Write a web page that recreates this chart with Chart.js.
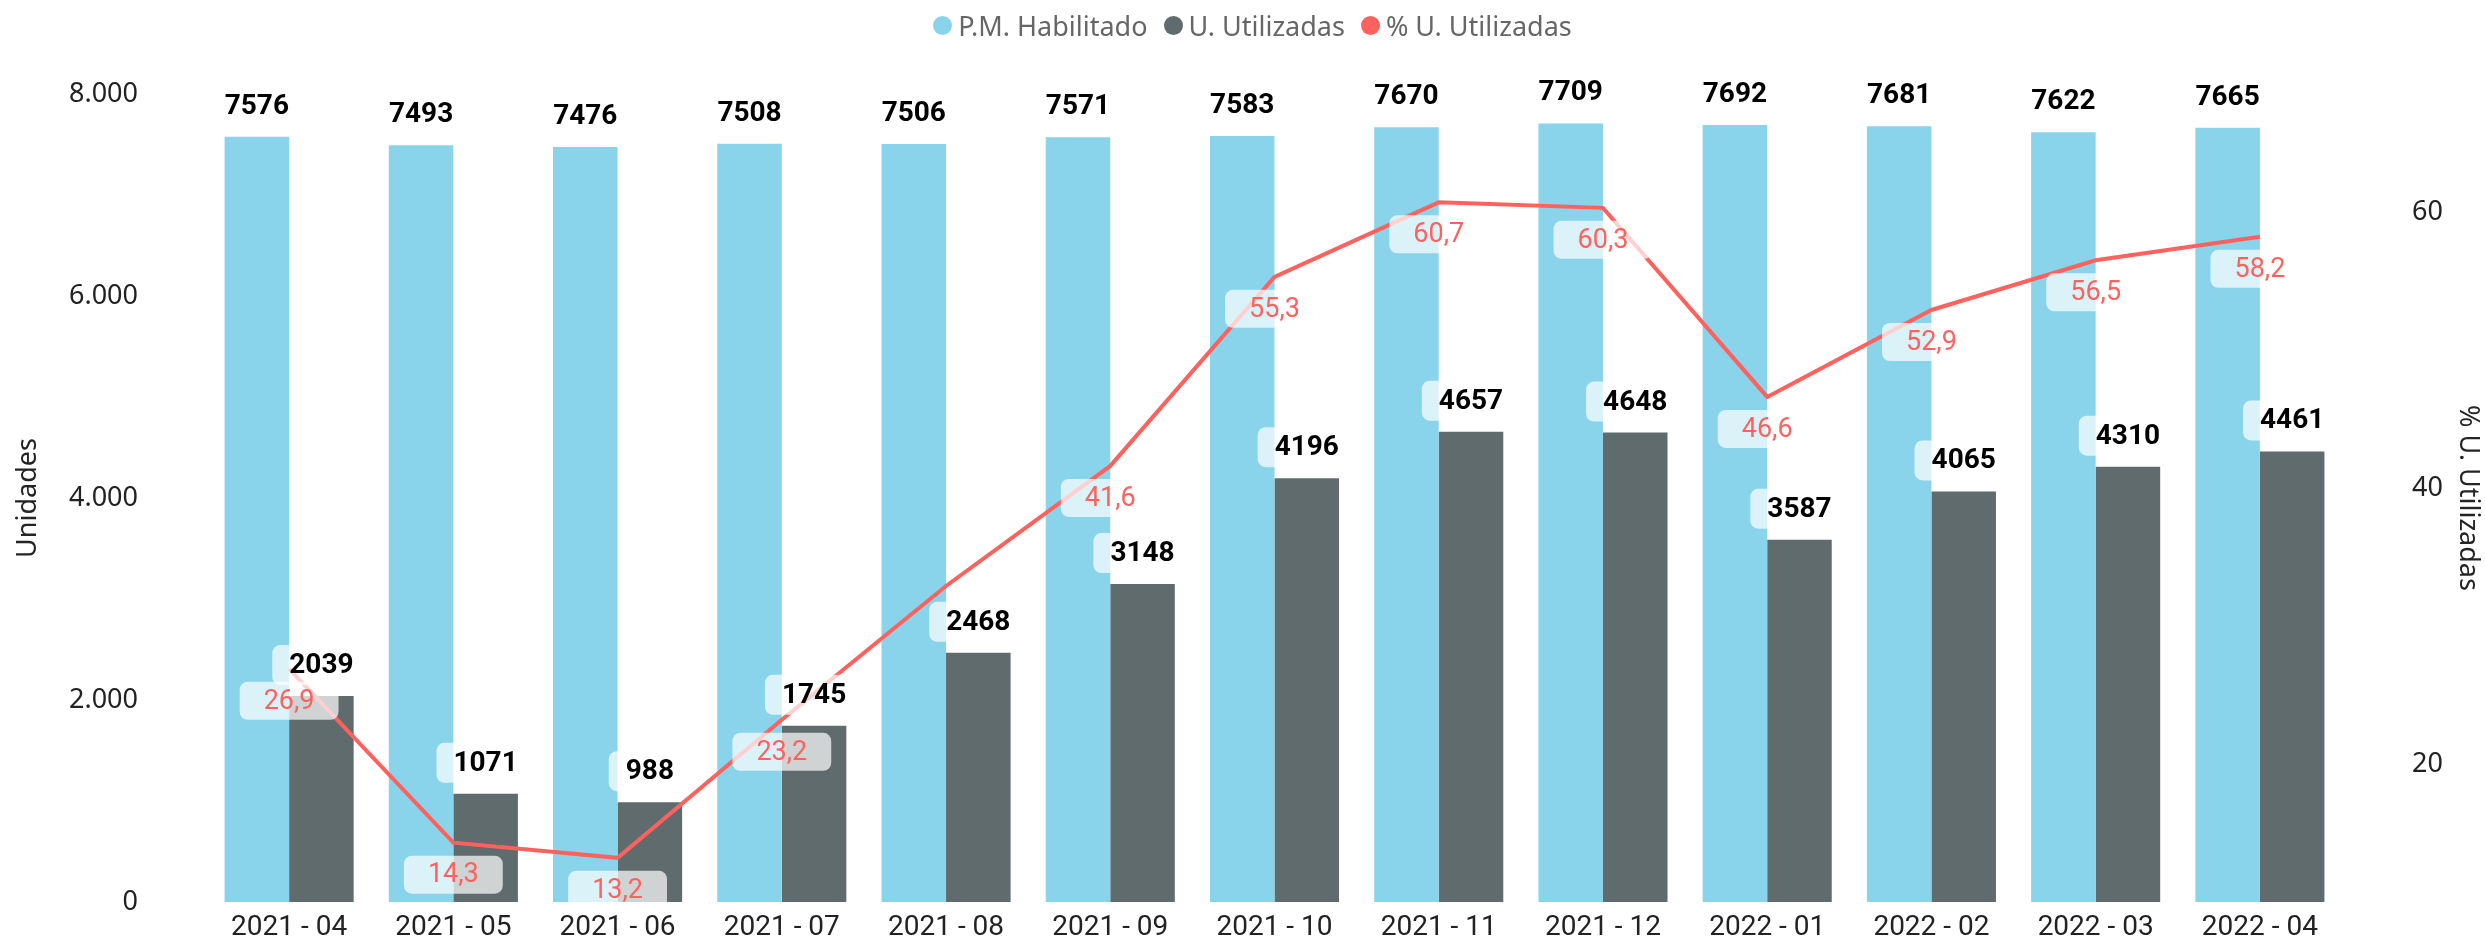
<!DOCTYPE html>
<html>
<head>
<meta charset="utf-8">
<script src="https://cdn.jsdelivr.net/npm/chart.js@4"></script>
<style>
    body { margin: 0; background: #ffffff; }
    #wrap { position: relative; width: 2485px; height: 942px; }
    #legend {
        position: absolute; top: 0; left: 0; width: 2485px; height: 50px;
        display: flex; justify-content: center; align-items: center;
        font-family: "Noto Sans", sans-serif; font-size: 27px; color: #666666;
        transform: translateX(10px);
    }
    .item { display: flex; align-items: center; margin: 0 8px; }
    .dot { width: 19px; height: 19px; border-radius: 50%; margin-right: 6px; }
</style>
</head>
<body>
<div id="wrap">
    <div id="legend"></div>
    <canvas id="myChart" width="2485" height="942"></canvas>
</div>
<script>
// datos
let meses = ["2021 - 04", "2021 - 05", "2021 - 06", "2021 - 07", "2021 - 08", "2021 - 09", "2021 - 10",
    "2021 - 11", "2021 - 12", "2022 - 01", "2022 - 02", "2022 - 03", "2022 - 04"]
let habilitado = [7576, 7493, 7476, 7508, 7506, 7571, 7583, 7670, 7709, 7692, 7681, 7622, 7665]
let utilizadas = [2039, 1071, 988, 1745, 2468, 3148, 4196, 4657, 4648, 3587, 4065, 4310, 4461]
let porcentaje = [26.9, 14.3, 13.2, 23.2, 32.9, 41.6, 55.3, 60.7, 60.3, 46.6, 52.9, 56.5, 58.2]
let ticksIzq = [0, 2000, 4000, 6000, 8000]
let ticksDer = [20, 40, 60]

let colores = ["#8AD4EB", "#5F6B6D", "#FD625E"]
let nombres = ["P.M. Habilitado", "U. Utilizadas", "% U. Utilizadas"]

// leyenda en html
for (let i = 0; i < nombres.length; i++) {
    document.getElementById("legend").innerHTML +=
        '<span class="item"><span class="dot" style="background:' + colores[i] + '"></span>' + nombres[i] + '</span>';
}

function miles(v) {
    return String(v).replace(/\B(?=(\d{3})+(?!\d))/g, ".");
}

function medir(ctx, txt, cx, cy, padX, h, font) {
    ctx.font = font;
    let w = ctx.measureText(txt).width + padX * 2;
    return {x1: cx - w / 2, x2: cx + w / 2, y1: cy - h / 2, y2: cy + h / 2};
}

function caja(ctx, txt, b, color, font) {
    ctx.font = font;
    ctx.fillStyle = "rgba(255,255,255,0.7)";
    ctx.beginPath();
    ctx.roundRect(b.x1, b.y1, b.x2 - b.x1, b.y2 - b.y1, 8);
    ctx.fill();
    ctx.fillStyle = color;
    ctx.textAlign = "center";
    ctx.textBaseline = "middle";
    ctx.fillText(txt, (b.x1 + b.x2) / 2, (b.y1 + b.y2) / 2 + 1);
}

// etiquetas de datos con fondo claro (como power bi)
const etiquetas = {
    id: "etiquetas",
    afterDatasetsDraw(chart) {
        let ctx = chart.ctx;
        let area = chart.chartArea;
        ctx.save();
        ctx.beginPath();
        ctx.rect(0, 0, chart.width, area.bottom);
        ctx.clip();
        let usadas = [];
        for (let d = 0; d < 2; d++) {
            let valores = d == 0 ? habilitado : utilizadas;
            chart.getDatasetMeta(d).data.forEach((bar, i) => {
                let f = "bold 28px Roboto";
                let b = medir(ctx, String(valores[i]), bar.x, bar.y - 31, 17, 40, f);
                caja(ctx, String(valores[i]), b, "#000000", f);
                usadas.push(b);
            });
        }
        chart.getDatasetMeta(2).data.forEach((pt, i) => {
            let f = "27px Roboto";
            let txt = porcentaje[i].toFixed(1).replace(".", ",");
            let b = medir(ctx, txt, pt.x, pt.y + 32, 24, 38, f);
            // se esconde si choca con otra etiqueta
            let choca = usadas.some(u =>
                Math.min(u.x2, b.x2) - Math.max(u.x1, b.x1) > 0 &&
                Math.min(u.y2, b.y2) - Math.max(u.y1, b.y1) > 19);
            if (!choca) caja(ctx, txt, b, "#FD625E", f);
        });
        ctx.restore();
    }
};

let chart = new Chart(document.getElementById("myChart").getContext("2d"), {
    type: "bar",
    data: {
        labels: meses,
        datasets: [
            {
                label: nombres[0],
                data: habilitado,
                backgroundColor: colores[0],
                yAxisID: "y",
                order: 1,
                categoryPercentage: 0.786,
                barPercentage: 1
            },
            {
                label: nombres[1],
                data: utilizadas,
                backgroundColor: colores[1],
                yAxisID: "y",
                order: 1,
                categoryPercentage: 0.786,
                barPercentage: 1
            },
            {
                type: "line",
                label: nombres[2],
                data: porcentaje,
                borderColor: colores[2],
                backgroundColor: colores[2],
                borderWidth: 4,
                pointRadius: 0,
                tension: 0,
                yAxisID: "y1",
                order: 0
            }
        ]
    },
    options: {
        responsive: false,
        animation: false,
        devicePixelRatio: 1,
        layout: {padding: {top: 94, left: 0, right: 0, bottom: 0}},
        plugins: {
            legend: {display: false},
            tooltip: {enabled: false}
        },
        scales: {
            x: {
                grid: {display: false, drawTicks: false},
                border: {display: false},
                ticks: {color: "#222222", font: {family: "Roboto", size: 28}, padding: 9, maxRotation: 0},
                afterFit: s => { s.height = 40 }
            },
            y: {
                position: "left",
                min: 0,
                max: 8000,
                grid: {display: false, drawTicks: false},
                border: {display: false},
                afterBuildTicks: s => { s.ticks = ticksIzq.map(v => ({value: v})) },
                ticks: {color: "#222222", font: {family: "Noto Sans", size: 27}, padding: 69, callback: v => miles(v)},
                title: {display: true, text: "Unidades", color: "#252423", font: {family: "Noto Sans", size: 27}, padding: {top: 12, bottom: 0}},
                afterFit: s => { s.width = 207; s.paddingTop = 0; s.paddingBottom = 0 }
            },
            y1: {
                position: "right",
                min: 10,
                max: 68.55,
                grid: {display: false, drawTicks: false},
                border: {display: false},
                afterBuildTicks: s => { s.ticks = ticksDer.map(v => ({value: v})) },
                ticks: {color: "#222222", font: {family: "Noto Sans", size: 27}, padding: 70},
                title: {display: true, text: "% U. Utilizadas", color: "#252423", font: {family: "Noto Sans", size: 27}, padding: {top: 1, bottom: 0}},
                afterFit: s => { s.width = 143; s.paddingTop = 0; s.paddingBottom = 0 }
            }
        }
    },
    plugins: [etiquetas]
});
</script>
</body>
</html>
